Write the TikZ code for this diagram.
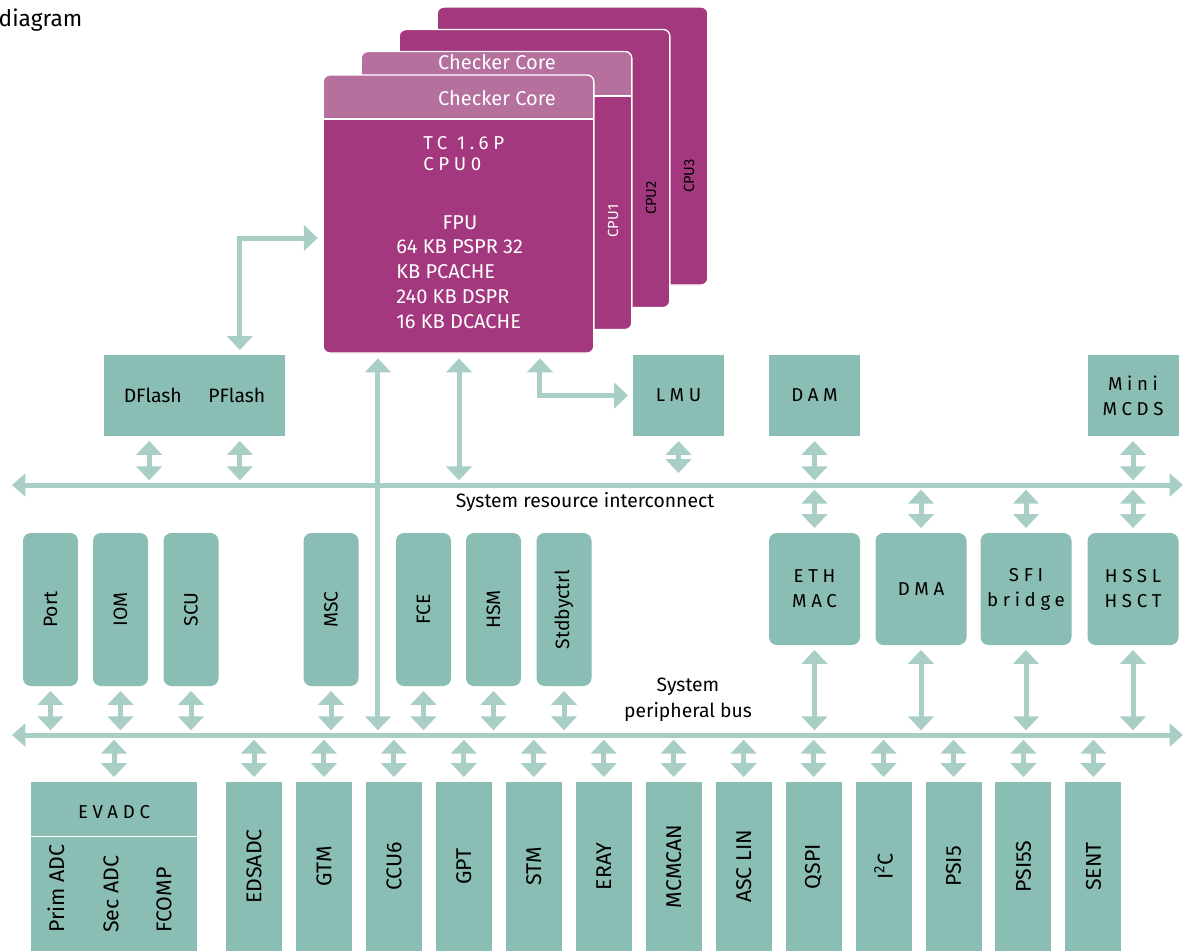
\documentclass[tikz,border=0pt]{standalone}
\usepackage{fontspec}
\setmainfont{Fira Sans}
\newfontfamily\spacedfont[LetterSpace=25]{Fira Sans}
\usetikzlibrary{arrows.meta}

\definecolor{cpufill}{HTML}{A4387E}
\definecolor{ckfill}{HTML}{B5709E}
\definecolor{boxfill}{HTML}{8ABDB3}
\definecolor{linkc}{HTML}{A9CEC6}

\begin{document}
\begin{tikzpicture}[
    x=0.75pt, y=-0.75pt,
    font=\fontsize{14.5}{17}\selectfont,
    card/.style={draw=white, line width=1pt, fill=cpufill, rounded corners=5pt, minimum width=203pt, minimum height=208.5pt, inner sep=0pt},
    checker/.style={card, path picture={
        \fill[ckfill, sharp corners] (path picture bounding box.north west) rectangle ([yshift=-33pt]path picture bounding box.north east);
        \draw[white, line width=1.5pt] ([yshift=-33pt]path picture bounding box.north west) -- ([yshift=-33pt]path picture bounding box.north east);}},
    cpulabel/.style={rotate=90, font=\fontsize{11}{13}\selectfont},
    box/.style={fill=boxfill, align=center, inner sep=0pt, minimum width=68.25pt, minimum height=60.75pt},
    spaced/.style={font=\spacedfont\fontsize{14}{18.75}\selectfont},
    rbox/.style={box, rounded corners=6pt, minimum height=84pt},
    tallbox/.style={fill=boxfill, rounded corners=6pt, minimum width=41.25pt, minimum height=114.75pt},
    periph/.style={fill=boxfill, minimum width=42pt, minimum height=126.75pt},
    plabel/.style={rotate=90, font=\fontsize{16}{19}\selectfont},
    link/.style={draw=linkc, line width=3.75pt, {Triangle[width=19pt,length=10.5pt]}-{Triangle[width=19pt,length=10.5pt]}, shorten <=3.5pt, shorten >=3.5pt},
    bus/.style={draw=linkc, line width=3.75pt, {Triangle[width=17pt,length=10pt]}-{Triangle[width=17pt,length=10pt]}}
  ]
    \useasboundingbox (0,0) rectangle (1186,951);

    \node[anchor=east, font=\fontsize{17}{20}\selectfont] (title) at (87,20) {diagram};

    % CPU stack
    \node[card] (cpu3) at (572.5,146) {};
    \node[card] (cpu2) at (534.5,168.5) {};
    \node[checker] (cpu1) at (496.5,190.5) {};
    \node[checker] (cpu0) at (458.5,214) {};
    \node[text=white, font=\fontsize{15}{18}\selectfont] (ck1) at (497,62) {Checker Core};
    \node[text=white, font=\fontsize{15}{18}\selectfont] (ck0) at (497,98) {Checker Core};
    \node[cpulabel, text=white] (lbl1) at (613,221) {CPU1};
    \node[cpulabel] (lbl2) at (651,198) {CPU2};
    \node[cpulabel] (lbl3) at (689,176) {CPU3};
    \node[text=white, align=left, anchor=north west, inner sep=0pt,
          font=\spacedfont\fontsize{14}{15.75}\selectfont] (tc) at (423,136) {TC 1.6P\\CPU0};
    \node[text=white, font=\fontsize{15}{18}\selectfont] (fpu) at (460,223) {FPU};
    \node[text=white, align=left, anchor=north west, inner sep=0pt,
          font=\fontsize{15}{18.75}\selectfont] (mem) at (396,239) {64 KB PSPR 32\\KB PCACHE\\240 KB DSPR\\16 KB DCACHE};

    % upper blocks
    \node[box, minimum width=135.75pt] (flash) at (194.5,395.5) {DFlash\hspace{20pt}PFlash};
    \node[box, spaced] (lmu) at (678.5,395.5) {LMU};
    \node[box, spaced] (dam) at (814.5,395.5) {DAM};
    \node[box, spaced] (mcds) at (1133,395.5) {Mini\\MCDS};

    % buses
    \coordinate (srbL) at (12,485);
    \coordinate (srbR) at (1183,485);
    \coordinate (pbL) at (12,735);
    \coordinate (pbR) at (1183,735);
    \draw[bus] (srbL) -- (srbR);
    \draw[bus] (pbL) -- (pbR);
    \node (srblabel) at (585,502) {System resource interconnect};
    \node[align=center, font=\fontsize{14.5}{19.5}\selectfont] (pblabel) at (688,700) {System\\peripheral bus};

    % right blocks
    \node[rbox, spaced] (eth) at (814.5,589) {ETH\\MAC};
    \node[rbox, spaced] (dma) at (921,589) {DMA};
    \node[rbox, spaced] (sfi) at (1026,589) {SFI\\bridge};
    \node[rbox, spaced] (hssl) at (1133,589) {HSSL\\HSCT};

    % left blocks
    \foreach \nm/\lbl/\xx in {port/Port/50.5, iom/IOM/120.5, scu/SCU/191, msc/MSC/331,
                              fce/FCE/423.5, hsm/HSM/493.5, stby/Stdbyctrl/564}
      \node[tallbox, label={[rotate=90]center:\lbl}] (\nm) at (\xx,609.5) {};

    % peripherals
    \node[periph, minimum width=124.5pt] (evadc) at (114,866.5) {};
    \draw[white, line width=1pt] ([yshift=-41.25pt]evadc.north west) -- ([yshift=-41.25pt]evadc.north east);
    \node[spaced] (evtitle) at ([yshift=-22.5pt]evadc.north) {EVADC};
    \node[plabel, anchor=west, inner sep=0pt] (prim) at (56,933) {Prim ADC};
    \node[plabel, anchor=west, inner sep=0pt] (sec) at (111,933) {Sec ADC};
    \node[plabel, anchor=west, inner sep=0pt] (fcomp) at (164,933) {FCOMP};
    \foreach \nm/\lbl [count=\i from 0] in {edsadc/EDSADC, gtm/GTM, ccu/CCU6, gpt/GPT, stm/STM,
        eray/ERAY, mcmcan/MCMCAN, asclin/ASC LIN, qspi/QSPI, iic/I\textsuperscript{2}C,
        psi/PSI5, psis/PSI5S, sent/SENT}
      \node[periph, label={[plabel]center:\lbl}] (\nm) at ({254+69.95*\i},866.5) {};

    % links
    \coordinate (c0a) at ([xshift=-60.4pt]cpu0.south);
    \coordinate (c0b) at ([xshift=0.4pt]cpu0.south);
    \coordinate (c0c) at ([xshift=61.1pt]cpu0.south);
    \coordinate (fl) at ([xshift=34pt]flash.north);
    \coordinate (c0w) at ([yshift=-18pt]cpu0.west);
    \draw[link] (fl) |- (c0w);
    \draw[link] (c0c) |- (lmu.west);
    \draw[link] (c0b) -- (c0b |- srbL);
    \draw[link] (c0a) -- (c0a |- pbL);
    \draw[link] ([xshift=-34pt]flash.south) -- ([xshift=-34pt]flash.south |- srbL);
    \draw[link] (fl |- flash.south) -- (fl |- srbL);
    \draw[link, shorten >=9pt] (lmu.south) -- (lmu.south |- srbL);
    \foreach \nm in {dam, mcds}
      \draw[link] (\nm.south) -- (\nm.south |- srbL);
    \foreach \nm in {eth, dma, sfi, hssl} {
      \draw[link] (\nm.north |- srbL) -- (\nm.north);
      \draw[link] (\nm.south) -- (\nm.south |- pbL);
    }
    \foreach \nm in {port, iom, scu, msc, fce, hsm, stby}
      \draw[link] (\nm.south) -- (\nm.south |- pbL);
    \foreach \nm in {evadc, edsadc, gtm, ccu, gpt, stm, eray, mcmcan, asclin, qspi, iic, psi, psis, sent}
      \draw[link] (\nm.north |- pbL) -- (\nm.north);
  \end{tikzpicture}
\end{document}
